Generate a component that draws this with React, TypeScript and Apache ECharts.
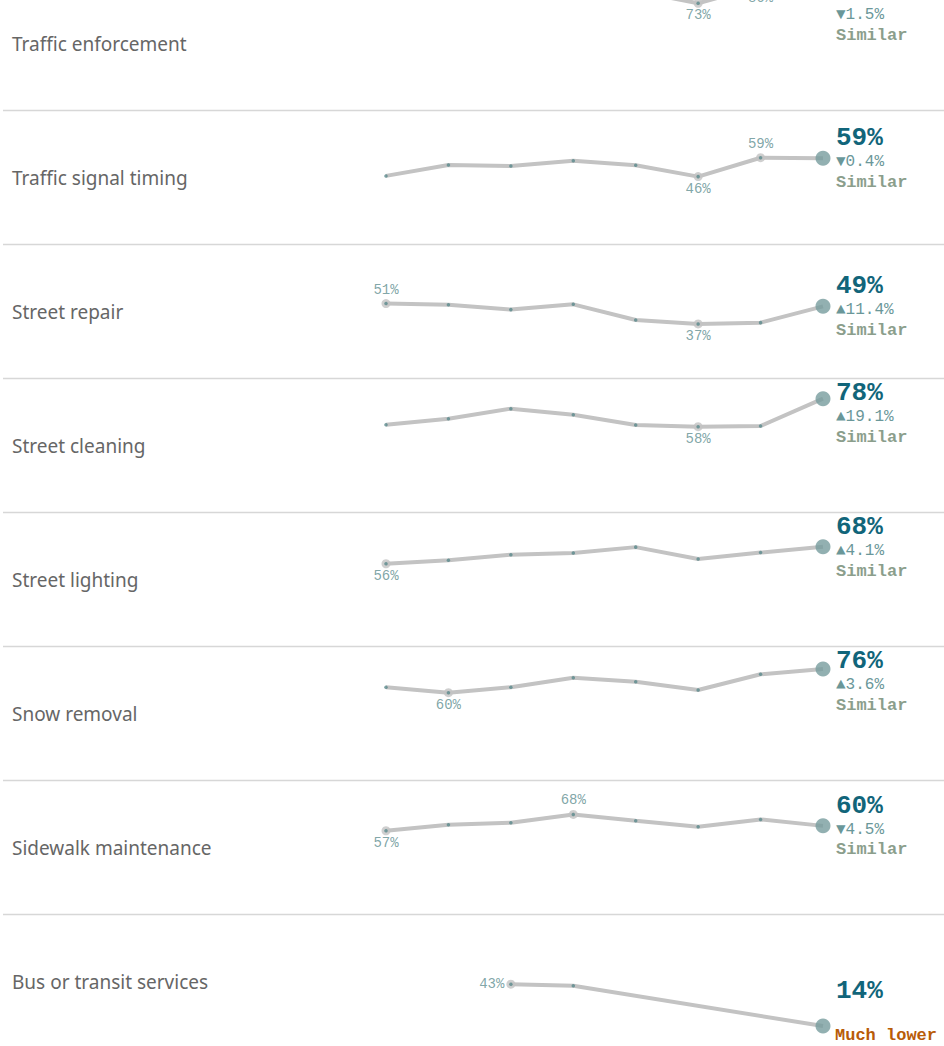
import React, { useEffect, useRef } from "react";
import * as echarts from "echarts";

const services = [
  "Traffic enforcement",
  "Traffic signal timing",
  "Street repair",
  "Street cleaning",
  "Street lighting",
  "Snow removal",
  "Sidewalk maintenance",
  "Bus or transit services",
];

const trafficEnforcement = [80, 83, 81, 84, 82, 73.4, 85.5, 84.0];
const trafficSignalTiming = [46.4, 54.0, 53.3, 57.0, 53.8, 45.9, 59.1, 58.7];
const streetRepair = [50.8, 50.0, 46.6, 50.3, 39.3, 36.6, 37.5, 48.9];
const streetCleaning = [59.8, 64.0, 71.0, 66.8, 59.6, 58.4, 58.9, 78.0];
const streetLighting = [56.3, 58.7, 62.6, 63.8, 67.9, 59.6, 64.1, 68.2];
const snowRemoval = [63.6, 59.8, 63.6, 70.3, 67.5, 61.7, 72.7, 76.3];
const sidewalkMaintenance = [57.0, 61.2, 62.6, 68.4, 64.0, 59.8, 64.9, 60.4];
const busTransit = [null, null, 43.4, 42.3, null, null, null, 14.2];

const seriesValues: (number | null)[][] = [
  trafficEnforcement,
  trafficSignalTiming,
  streetRepair,
  streetCleaning,
  streetLighting,
  snowRemoval,
  sidewalkMaintenance,
  busTransit,
];

const deltas: (string | null)[] = ["▼1.5%", "▼0.4%", "▲11.4%", "▲19.1%", "▲4.1%", "▲3.6%", "▼4.5%", null];
const statuses = ["Similar", "Similar", "Similar", "Similar", "Similar", "Similar", "Similar", "Much lower"];

const ROW_H = 134;
const OFFSET = 24;
const PLOT_H = 132.3;
const Y_MAX = 92.45;
const MONO = '"Liberation Mono", "Courier New", monospace';

export default function App() {
  const ref = useRef<HTMLDivElement>(null);
  useEffect(() => {
    if (!ref.current) return;
    const chart = echarts.init(ref.current, undefined, { renderer: "svg" });
    const grids: any[] = [];
    const xAxes: any[] = [];
    const yAxes: any[] = [];
    const series: any[] = [];
    seriesValues.forEach((vals, i) => {
      const top = i * ROW_H;
      grids.push({ left: 386, right: 121, top, height: PLOT_H });
      xAxes.push({ type: "value", min: 0, max: 7, show: false, gridIndex: i });
      yAxes.push({ type: "value", min: 0, max: Y_MAX, show: false, gridIndex: i });
      const pts = vals
        .map((v, k) => (v == null ? null : [k, v]))
        .filter((p) => p !== null) as number[][];
      const lastIdx = vals.length - 1;
      let maxP = pts[0];
      let minP = pts[0];
      pts.forEach((p) => {
        if (p[1] > maxP[1]) maxP = p;
        if (p[1] < minP[1]) minP = p;
      });
      const firstIdx = pts[0][0];
      const extremes: any[] = [];
      [maxP, minP].forEach((p, j) => {
        if (p[0] === lastIdx) return;
        const isMax = j === 0;
        let label: any;
        if (p[0] === firstIdx && firstIdx > 0) {
          label = { position: "left", distance: 2 };
        } else {
          // max above, min below; flip when the label would leave the pane
          const py = top + PLOT_H - (p[1] / Y_MAX) * PLOT_H;
          let above = isMax;
          if (above && py - 14 - 7 < top) above = false;
          label = { position: "inside", offset: [0, above ? -14 : 12] };
        }
        extremes.push({
          value: p,
          label: {
            show: true,
            formatter: Math.round(p[1]) + "%",
            color: "#5f8f91",
            fontFamily: MONO,
            fontSize: 14,
            ...label,
          },
        });
      });
      series.push({
        type: "line",
        xAxisIndex: i,
        yAxisIndex: i,
        data: pts,
        symbol: "none",
        lineStyle: { color: "#c3c3c3", width: 4 },
        z: 2,
        silent: true,
      });
      series.push({
        type: "scatter",
        xAxisIndex: i,
        yAxisIndex: i,
        data: extremes,
        symbolSize: 9,
        itemStyle: { color: "#c3c3c3" },
        z: 3,
      });
      series.push({
        type: "scatter",
        xAxisIndex: i,
        yAxisIndex: i,
        data: pts.filter((p) => p[0] !== lastIdx),
        symbolSize: 3.5,
        itemStyle: { color: "#5a8a8c" },
        z: 4,
      });
      series.push({
        type: "scatter",
        xAxisIndex: i,
        yAxisIndex: i,
        data: pts.filter((p) => p[0] === lastIdx),
        symbolSize: 15,
        itemStyle: { color: "#779c9e" },
        z: 5,
      });
    });

    chart.setOption({
      animation: false,
      backgroundColor: "#ffffff",
      grid: grids,
      xAxis: xAxes,
      yAxis: yAxes,
      series,
    });

    const graphic: any[] = [];
    services.forEach((name, i) => {
      const top = i * ROW_H;
      graphic.push({
        type: "text",
        style: {
          text: name,
          x: 12,
          y: top + ROW_H / 2 + 1,
          verticalAlign: "middle",
          font: '19px "Noto Sans", sans-serif',
          fill: "#666666",
        },
      });
      if (i < services.length - 1) {
        graphic.push({
          type: "line",
          shape: { x1: 3, y1: top + ROW_H + 0.5, x2: 944, y2: top + ROW_H + 0.5 },
          style: { stroke: "#d7d7d7", lineWidth: 1.3 },
        });
      }
      const vals = seriesValues[i];
      const lastIdx = vals.length - 1;
      const last = vals[lastIdx] as number;
      const pix = chart.convertToPixel({ gridIndex: i }, [lastIdx, last]) as number[];
      let t = Math.max(pix[1] - 20, top + 15);
      if (t + 44 > top + ROW_H - 13) t = top + ROW_H - 13 - 44;
      const tx = pix[0] + 13;
      graphic.push({
        type: "text",
        style: {
          text: Math.round(last) + "%",
          x: tx,
          y: t,
          verticalAlign: "middle",
          font: "bold 26px " + MONO,
          fill: "#11657a",
        },
      });
      if (deltas[i]) {
        graphic.push({
          type: "text",
          style: {
            text: deltas[i],
            x: tx,
            y: t + 24,
            verticalAlign: "middle",
            font: "16px " + MONO,
            fill: "#6a9799",
          },
        });
      }
      const much = statuses[i] !== "Similar";
      graphic.push({
        type: "text",
        style: {
          text: statuses[i],
          x: tx - (much ? 1 : 0),
          y: t + 44,
          verticalAlign: "middle",
          font: "bold 17px " + MONO,
          fill: much ? "#b85c08" : "#8b9e8c",
        },
      });
    });
    chart.setOption({ graphic });
    return () => chart.dispose();
  }, []);
  return (
    <div
      ref={ref}
      style={{ position: "fixed", left: 0, top: -OFFSET, width: 944, height: ROW_H * 8, background: "#fff" }}
    />
  );
}
